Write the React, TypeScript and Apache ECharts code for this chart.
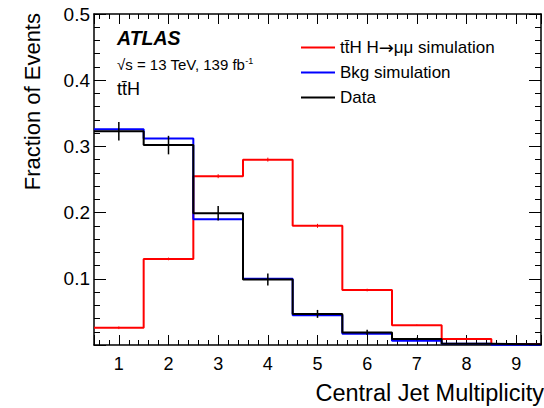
import React, { useEffect, useRef } from "react";
import * as echarts from "echarts";

const binCenters = [1, 2, 3, 4, 5, 6, 7, 8, 9];
const tthSim = [0.026, 0.13, 0.255, 0.28, 0.18, 0.083, 0.03, 0.009, 0.0015];
const tthErr = [0.002, 0.002, 0.003, 0.003, 0.003, 0.002, 0.001, 0.001, 0.0005];
const bkgSim = [0.326, 0.312, 0.19, 0.1, 0.045, 0.017, 0.0065, 0.002, 0.0005];
const dataVals = [0.323, 0.302, 0.199, 0.099, 0.047, 0.019, 0.009, 0.002, 0.001];
const dataErr = [0.014, 0.014, 0.011, 0.009, 0.006, 0.004, 0.002, 0.001, 0.0005];
const xTickLabels = ["1", "2", "3", "4", "5", "6", "7", "8", "9"];
const seriesNames = ["tt\u0304H H\u2192\u03bc\u03bc simulation", "Bkg simulation", "Data"];

const FONT = '"Liberation Sans", Arial, Helvetica, sans-serif';

function stepPoints(vals: number[]) {
  const pts: number[][] = [];
  vals.forEach((v, i) => {
    pts.push([binCenters[i] - 0.5, v]);
    pts.push([binCenters[i] + 0.5, v]);
  });
  return pts;
}

function errPoints(vals: number[], errs: number[]) {
  return vals.map((v, i) => [binCenters[i], v - errs[i], v + errs[i]]);
}

function errSeries(vals: number[], errs: number[], color: string, width: number) {
  return {
    type: "custom",
    xAxisIndex: 0,
    yAxisIndex: 0,
    silent: true,
    data: errPoints(vals, errs),
    encode: { x: 0, y: [1, 2] },
    renderItem: (params: any, api: any) => {
      const x = api.value(0);
      const p1 = api.coord([x, api.value(1)]);
      const p2 = api.coord([x, api.value(2)]);
      return {
        type: "line",
        shape: { x1: p1[0], y1: p1[1], x2: p2[0], y2: p2[1] },
        style: { stroke: color, lineWidth: width },
      };
    },
  };
}

export default function App() {
  const ref = useRef<HTMLDivElement>(null);
  useEffect(() => {
    document.body.style.margin = "0";
    if (!ref.current) return;
    const chart = echarts.init(ref.current, null, { renderer: "svg" });
    const axisCommon = {
      min: 0.5,
      max: 9.5,
      splitNumber: 9,
    };
    chart.setOption({
      animation: false,
      backgroundColor: "#fff",
      grid: { left: 94, right: 0, top: 14, bottom: 63, containLabel: false },
      legend: {
        data: seriesNames,
        orient: "vertical",
        left: 296,
        top: 33,
        itemWidth: 34,
        itemHeight: 2,
        icon: "rect",
        itemGap: 6,
        formatter: (name: string) =>
          name === seriesNames[0] ? "tt\u0304H H{arr|\u2192}\u03bc\u03bc simulation" : name,
        textStyle: {
          fontFamily: FONT,
          fontSize: 17,
          color: "#000",
          lineHeight: 19,
          rich: {
            arr: { fontFamily: '"DejaVu Sans", sans-serif', fontSize: 18, color: "#000", lineHeight: 19 },
          },
        },
      },
      xAxis: [
        {
          type: "value",
          position: "bottom",
          ...axisCommon,
          axisLine: { show: true, onZero: false, lineStyle: { color: "#000", width: 1.5 } },
          axisTick: { show: true, inside: true, length: 10, lineStyle: { color: "#000", width: 1 } },
          minorTick: { show: true, splitNumber: 5, length: 5, lineStyle: { color: "#000", width: 1 } },
          splitLine: { show: false },
          axisLabel: {
            fontFamily: FONT,
            fontSize: 18,
            color: "#000",
            margin: 10,
            formatter: (v: number) => {
              const i = binCenters.indexOf(v);
              return i >= 0 ? xTickLabels[i] : "";
            },
          },
        },
        {
          type: "value",
          position: "top",
          ...axisCommon,
          axisLine: { show: true, onZero: false, lineStyle: { color: "#000", width: 1.5 } },
          axisTick: { show: true, inside: true, length: 10, lineStyle: { color: "#000", width: 1 } },
          minorTick: { show: true, splitNumber: 5, length: 5, lineStyle: { color: "#000", width: 1 } },
          splitLine: { show: false },
          axisLabel: { show: false },
        },
      ],
      yAxis: [
        {
          type: "value",
          position: "left",
          min: 0,
          max: 0.5,
          interval: 0.1,
          axisLine: { show: true, onZero: false, lineStyle: { color: "#000", width: 1.5 } },
          axisTick: { show: true, inside: true, length: 12, lineStyle: { color: "#000", width: 1 } },
          minorTick: { show: true, splitNumber: 5, length: 6, lineStyle: { color: "#000", width: 1 } },
          splitLine: { show: false },
          axisLabel: {
            fontFamily: FONT,
            fontSize: 19,
            color: "#000",
            margin: 4,
            formatter: (v: number) => (v === 0 ? "" : v.toFixed(1)),
          },
        },
        {
          type: "value",
          position: "right",
          min: 0,
          max: 0.5,
          interval: 0.1,
          axisLine: { show: true, onZero: false, lineStyle: { color: "#000", width: 1.5 } },
          axisTick: { show: true, inside: true, length: 12, lineStyle: { color: "#000", width: 1 } },
          minorTick: { show: true, splitNumber: 5, length: 6, lineStyle: { color: "#000", width: 1 } },
          splitLine: { show: false },
          axisLabel: { show: false },
        },
      ],
      series: [
        {
          name: seriesNames[0],
          type: "line",
          data: stepPoints(tthSim),
          symbol: "none",
          color: "#ff0000",
          lineStyle: { color: "#ff0000", width: 2 },
          itemStyle: { color: "#ff0000" },
          z: 2,
        },
        errSeries(tthSim, tthErr, "#ff0000", 1),
        {
          name: seriesNames[1],
          type: "line",
          data: stepPoints(bkgSim),
          symbol: "none",
          color: "#0000ff",
          lineStyle: { color: "#0000ff", width: 2 },
          itemStyle: { color: "#0000ff" },
          z: 3,
        },
        {
          name: seriesNames[2],
          type: "line",
          data: stepPoints(dataVals),
          symbol: "none",
          color: "#000000",
          lineStyle: { color: "#000000", width: 2 },
          itemStyle: { color: "#000000" },
          z: 4,
        },
        { ...errSeries(dataVals, dataErr, "#000000", 1.5), z: 5 },
      ],
      graphic: [
        {
          type: "text",
          x: 117,
          y: 38,
          style: {
            text: "ATLAS",
            font: `italic bold 19.5px ${FONT}`,
            fill: "#000",
            verticalAlign: "middle",
          },
        },
        {
          type: "text",
          x: 117,
          y: 64,
          style: {
            text: "\u221as = 13 TeV, 139 fb{sup|-1}",
            font: `15px ${FONT}`,
            fill: "#000",
            verticalAlign: "middle",
            rich: {
              sup: { fontSize: 9, fontFamily: FONT, verticalAlign: "top", lineHeight: 16, padding: [0, 0, 6, 0] },
            },
          },
        },
        {
          type: "text",
          x: 117,
          y: 89,
          style: {
            text: "tt\u0304H",
            font: `18px ${FONT}`,
            fill: "#000",
            verticalAlign: "middle",
          },
        },
        {
          type: "text",
          x: 32,
          y: 13,
          rotation: Math.PI / 2,
          style: {
            text: "Fraction of Events",
            font: `22px ${FONT}`,
            fill: "#000",
            align: "right",
            verticalAlign: "middle",
          },
        },
        {
          type: "text",
          x: 544,
          y: 393,
          style: {
            text: "Central Jet Multiplicity",
            font: `23.5px ${FONT}`,
            fill: "#000",
            align: "right",
            verticalAlign: "middle",
          },
        },
      ],
    });
    return () => chart.dispose();
  }, []);
  return <div ref={ref} style={{ width: 544, height: 408 }} />;
}
